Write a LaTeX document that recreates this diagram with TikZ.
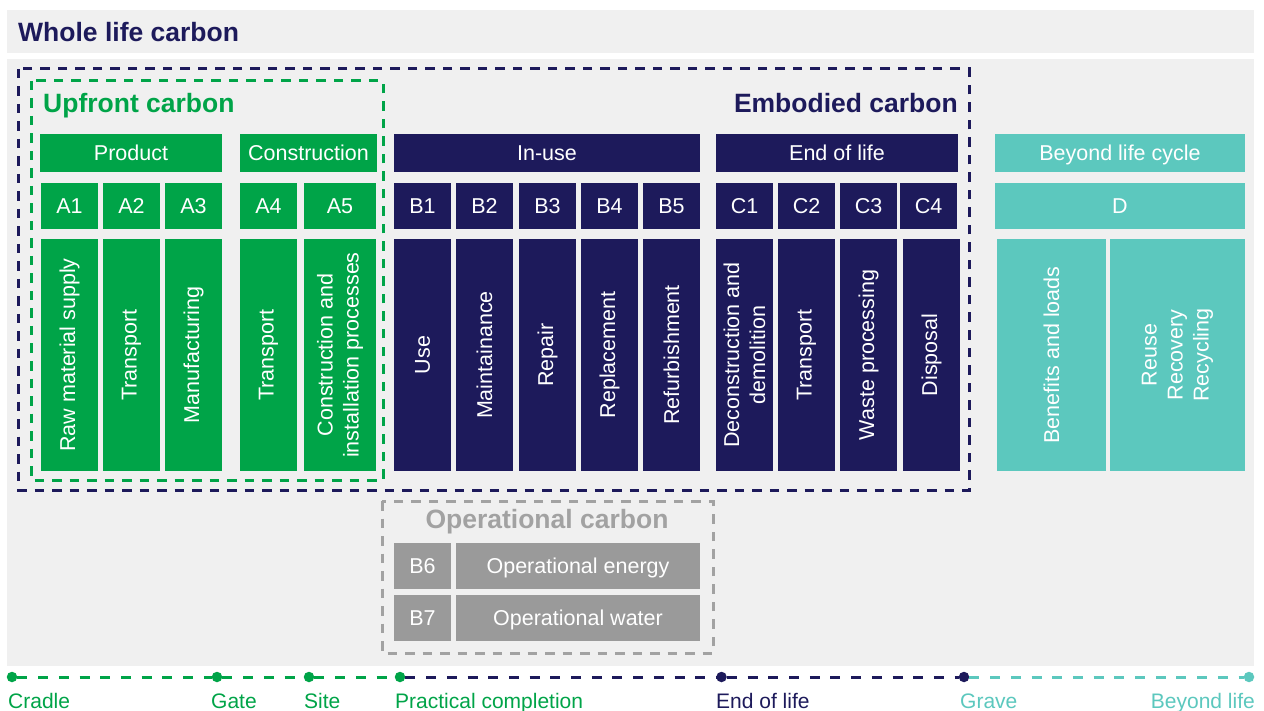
\documentclass[tikz,border=0pt]{standalone}
\usepackage{fontspec}
\setmainfont{Liberation Sans}
\definecolor{navy}{RGB}{29,26,91}
\definecolor{cgreen}{RGB}{0,164,72}
\definecolor{cteal}{RGB}{92,200,190}
\definecolor{cgreybox}{RGB}{154,154,154}
\definecolor{panel}{RGB}{240,240,240}
\definecolor{cdash}{RGB}{162,162,162}
\begin{document}
\begin{tikzpicture}[x=1pt,y=-1pt,
  box/.style={rectangle, inner sep=0pt, outer sep=0pt, text=white, align=center,
    font=\fontsize{21.5}{26}\selectfont},
  hb/.style={text height=15.4pt, text depth=0pt},
  gbox/.style={box, fill=cgreen},
  nbox/.style={box, fill=navy},
  tbox/.style={box, fill=cteal},
  obox/.style={box, fill=cgreybox},
  vert/.style={rotate=90, minimum width=232pt},
  head/.style={inner sep=0pt, font=\bfseries\fontsize{26.5}{30}\selectfont},
  frame/.style={line width=3pt, dash pattern=on 9.5pt off 8pt},
  dot/.style={circle, inner sep=0pt, minimum size=10.5pt},
  tl/.style={line width=3pt, dash pattern=on 10pt off 10.7pt},
  tlabel/.style={inner sep=0pt, anchor=base west, font=\fontsize{21}{25}\selectfont}
]
\useasboundingbox (0,0) rectangle (1264,711);
\fill[white] (0,0) rectangle (1264,711);
\fill[panel] (7,10) rectangle (1254,53);
\fill[panel] (7,59) rectangle (1254,666);

\node[head, text=navy, anchor=base west] (whole) at (18,42) {Whole life carbon};

% dashed frames
\draw[frame, navy] (18,69) rectangle (969,490);
\draw[frame, cgreen] (31,81) rectangle (383,480);
\draw[frame, cdash] (382,501) rectangle (713,653);

\node[head, text=cgreen, anchor=base west] (upfront) at (43,113) {Upfront carbon};
\node[head, text=navy, anchor=base east] (embodied) at (958,113) {Embodied carbon};
\node[head, text=cdash, anchor=base] (operational) at (547,528) {Operational carbon};

% row 1 headers
\node[gbox, hb, minimum width=182pt, minimum height=38pt] (product) at (131,153) {Product};
\node[gbox, hb, minimum width=137pt, minimum height=38pt] (construction) at (308.5,153) {Construction};
\node[nbox, hb, minimum width=306pt, minimum height=38pt] (inuse) at (547,153) {In-use};
\node[nbox, hb, minimum width=242pt, minimum height=38pt] (endlife) at (837,153) {End of life};
\node[tbox, hb, minimum width=250pt, minimum height=38pt] (beyond) at (1120,153) {Beyond life cycle};

% row 2 codes
\node[gbox, hb, minimum width=57pt, minimum height=46pt] (a1) at (69.5,206) {A1};
\node[gbox, hb, minimum width=57pt, minimum height=46pt] (a2) at (131.5,206) {A2};
\node[gbox, hb, minimum width=57pt, minimum height=46pt] (a3) at (193.5,206) {A3};
\node[gbox, hb, minimum width=57pt, minimum height=46pt] (a4) at (268.5,206) {A4};
\node[gbox, hb, minimum width=72pt, minimum height=46pt] (a5) at (340,206) {A5};
\node[nbox, hb, minimum width=57pt, minimum height=46pt] (b1) at (422.5,206) {B1};
\node[nbox, hb, minimum width=57pt, minimum height=46pt] (b2) at (484.5,206) {B2};
\node[nbox, hb, minimum width=57pt, minimum height=46pt] (b3) at (547.5,206) {B3};
\node[nbox, hb, minimum width=57pt, minimum height=46pt] (b4) at (609.5,206) {B4};
\node[nbox, hb, minimum width=57pt, minimum height=46pt] (b5) at (671.5,206) {B5};
\node[nbox, hb, minimum width=57pt, minimum height=46pt] (c1) at (744.5,206) {C1};
\node[nbox, hb, minimum width=57pt, minimum height=46pt] (c2) at (806.5,206) {C2};
\node[nbox, hb, minimum width=57pt, minimum height=46pt] (c3) at (868.5,206) {C3};
\node[nbox, hb, minimum width=57pt, minimum height=46pt] (c4) at (928.5,206) {C4};
\node[tbox, hb, minimum width=250pt, minimum height=46pt] (d) at (1120,206) {D};

% row 3 vertical
\node[gbox, vert, minimum height=57pt] (a1t) at (69.5,355) {Raw material supply};
\node[gbox, vert, minimum height=57pt] (a2t) at (131.5,355) {Transport};
\node[gbox, vert, minimum height=57pt] (a3t) at (193.5,355) {Manufacturing};
\node[gbox, vert, minimum height=57pt] (a4t) at (268.5,355) {Transport};
\node[gbox, vert, minimum height=72pt] (a5t) at (340,355) {Construction and\\installation processes};
\node[nbox, vert, minimum height=57pt] (b1t) at (422.5,355) {Use};
\node[nbox, vert, minimum height=57pt] (b2t) at (484.5,355) {Maintainance};
\node[nbox, vert, minimum height=57pt] (b3t) at (547.5,355) {Repair};
\node[nbox, vert, minimum height=57pt] (b4t) at (609.5,355) {Replacement};
\node[nbox, vert, minimum height=57pt] (b5t) at (671.5,355) {Refurbishment};
\node[nbox, vert, minimum height=57pt] (c1t) at (744.5,355) {Deconstruction and\\demolition};
\node[nbox, vert, minimum height=57pt] (c2t) at (806.5,355) {Transport};
\node[nbox, vert, minimum height=57pt] (c3t) at (868.5,355) {Waste processing};
\node[nbox, vert, minimum height=57pt] (c4t) at (931.5,355) {Disposal};
\node[tbox, vert, minimum height=109pt] (d1t) at (1051.5,355) {Benefits and loads};
\node[tbox, vert, minimum height=135pt] (d2t) at (1177.5,355) {Reuse\\Recovery\\Recycling};

% operational
\node[obox, hb, minimum width=57pt, minimum height=46pt] (b6) at (422.5,566) {B6};
\node[obox, hb, minimum width=244pt, minimum height=46pt] (b6t) at (578,566) {Operational energy};
\node[obox, hb, minimum width=57pt, minimum height=46pt] (b7) at (422.5,618) {B7};
\node[obox, hb, minimum width=244pt, minimum height=46pt] (b7t) at (578,618) {Operational water};

% timeline
\node[dot, fill=cgreen] (cradle) at (12,677) {};
\node[dot, fill=cgreen] (gate) at (217,677) {};
\node[dot, fill=cgreen] (site) at (309,677) {};
\node[dot, fill=cgreen] (practical) at (400,677) {};
\node[dot, fill=navy] (eol) at (721.5,677) {};
\node[dot, fill=navy] (grave) at (964,677) {};
\node[dot, fill=cteal] (blife) at (1249,677) {};
\draw[tl, cgreen] (cradle) -- (gate);
\draw[tl, cgreen] (gate) -- (site);
\draw[tl, cgreen] (site) -- (practical);
\draw[tl, navy] (practical) -- (eol);
\draw[tl, navy] (eol) -- (grave);
\draw[tl, cteal] (grave) -- (blife);

\node[tlabel, text=cgreen] (lcradle) at (8,708) {Cradle};
\node[tlabel, text=cgreen] (lgate) at (211,708) {Gate};
\node[tlabel, text=cgreen] (lsite) at (304,708) {Site};
\node[tlabel, text=cgreen] (lpractical) at (395,708) {Practical completion};
\node[tlabel, text=navy] (leol) at (716,708) {End of life};
\node[tlabel, text=cteal] (lgrave) at (960,708) {Grave};
\node[tlabel, text=cteal, anchor=base east] (lblife) at (1255,708) {Beyond life};
\end{tikzpicture}
\end{document}
